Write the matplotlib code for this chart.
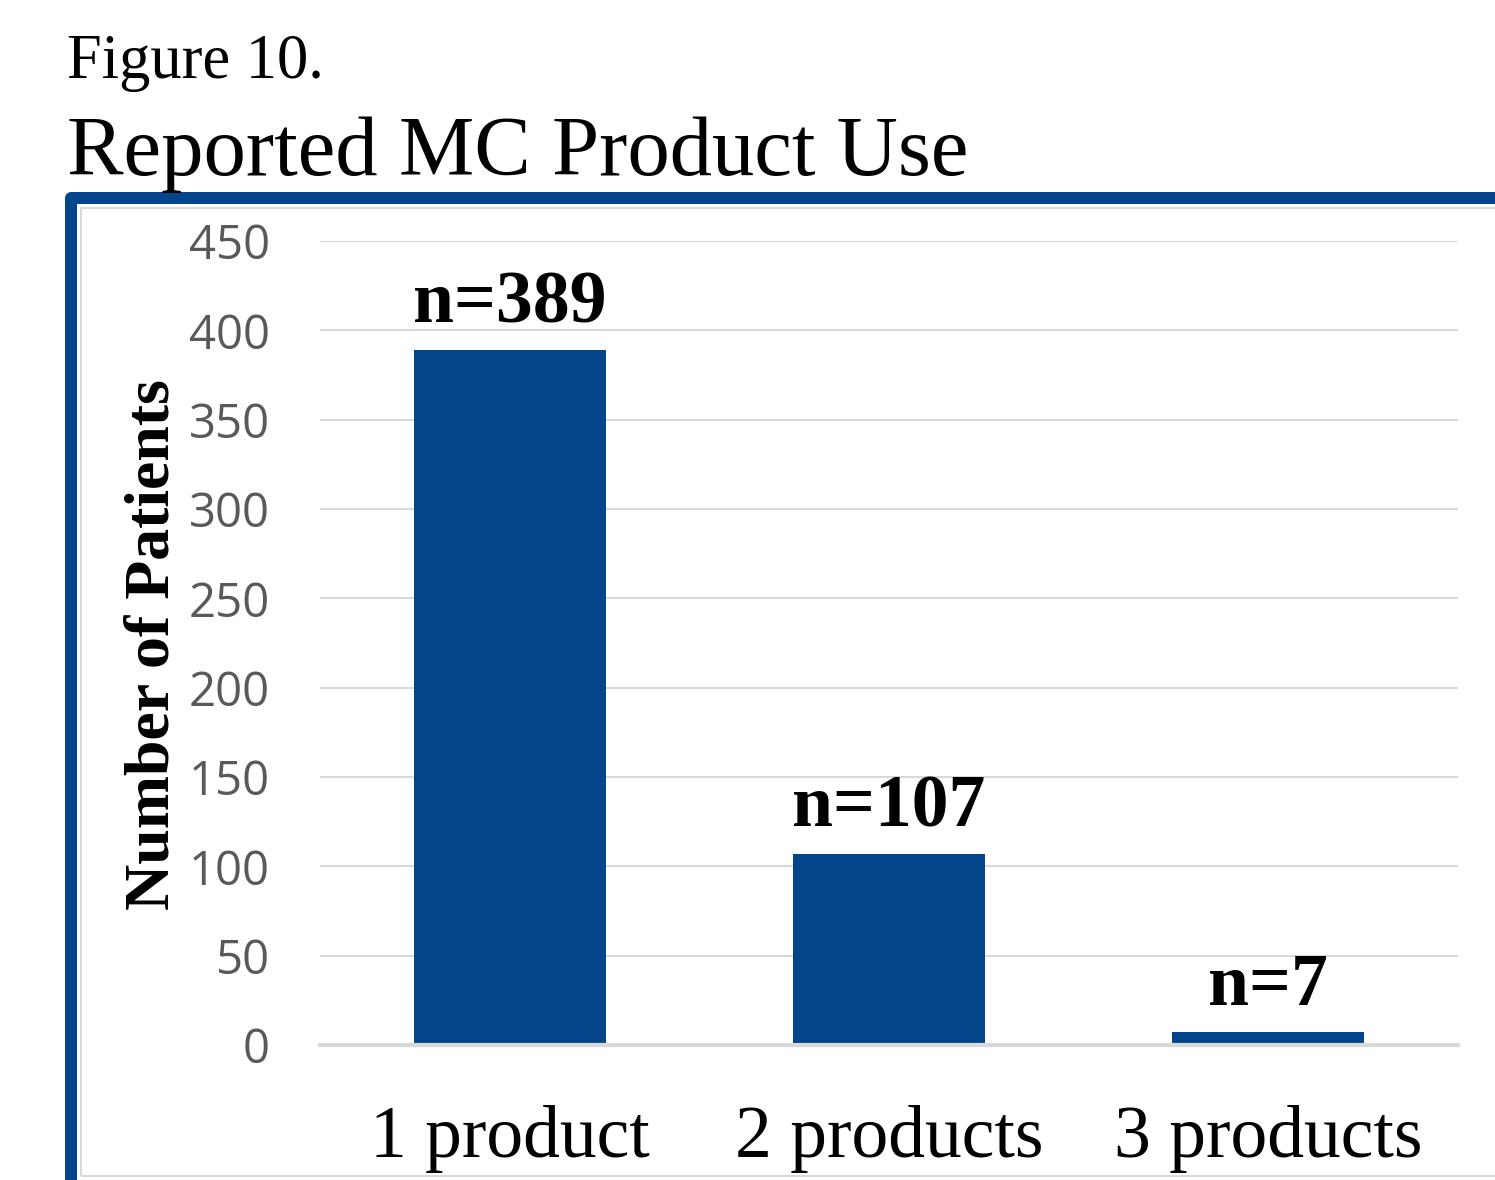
import matplotlib
matplotlib.use("Agg")
import matplotlib.pyplot as plt
from matplotlib.patches import Rectangle

categories = ["1 product", "2 products", "3 products"]
patients = [389, 107, 7]
yticks = [0, 50, 100, 150, 200, 250, 300, 350, 400, 450]

W, H, DPI = 1495, 1180, 100
BAR_COLOR = "#03458A"
GRID_COLOR = "#D9D9D9"

fig = plt.figure(figsize=(W / DPI, H / DPI), dpi=DPI)

def fx(px):
    return px / W

def fy(py):
    return 1 - py / H

# blue frame around the chart area (runs off the right and bottom edges)
fig.add_artist(Rectangle((fx(71), fy(1400)), fx(1700) - fx(71), fy(198) - fy(1400),
                         transform=fig.transFigure, fill=False,
                         edgecolor=BAR_COLOR, linewidth=12 * 72 / DPI,
                         joinstyle="round", clip_on=False))
# thin grey inner border
fig.add_artist(Rectangle((fx(81), fy(1176)), fx(1700) - fx(81), fy(208) - fy(1176),
                         transform=fig.transFigure, fill=False,
                         edgecolor=GRID_COLOR, linewidth=2 * 72 / DPI, clip_on=False))

ax = fig.add_axes([fx(320), fy(1045), fx(1458) - fx(320), fy(241) - fy(1045)])
x = range(len(categories))
bars = ax.bar(x, patients, width=0.507, color=BAR_COLOR, zorder=3)

ax.set_xlim(-0.5, len(categories) - 0.5)
ax.set_ylim(0, 450)
ax.set_yticks(yticks)
ax.set_yticklabels([str(t) for t in yticks], fontsize=34, color="#595959", family="Open Sans")
ax.set_xticks(list(x))
ax.set_xticklabels(categories, fontsize=53, family="Liberation Serif", color="black")
ax.tick_params(axis="y", length=0, pad=36)
ax.tick_params(axis="x", length=0, pad=43)
ax.grid(axis="y", color=GRID_COLOR, linewidth=1.5, zorder=0)
for s in ["top", "right", "left"]:
    ax.spines[s].set_visible(False)
ax.spines["bottom"].set_color(GRID_COLOR)
ax.spines["bottom"].set_linewidth(3)
ax.spines["bottom"].set_zorder(4)

for xi, v in zip(x, patients):
    ax.annotate(f"n={v}", (xi, v), xytext=(0, 20), textcoords="offset points",
                ha="center", va="baseline", fontsize=53, fontweight="bold",
                family="Liberation Serif", color="black")

fig.text(fx(154), fy(645), "Number of Patients", rotation=90, ha="center", va="center",
         fontsize=46, fontweight="bold", family="Liberation Serif")

fig.text(fx(67), fy(78), "Figure 10.", ha="left", va="baseline",
         fontsize=45, family="Liberation Serif")
fig.text(fx(67), fy(175), "Reported MC Product Use", ha="left", va="baseline",
         fontsize=61, family="Liberation Serif")

fig.savefig("out.png", dpi=DPI)
